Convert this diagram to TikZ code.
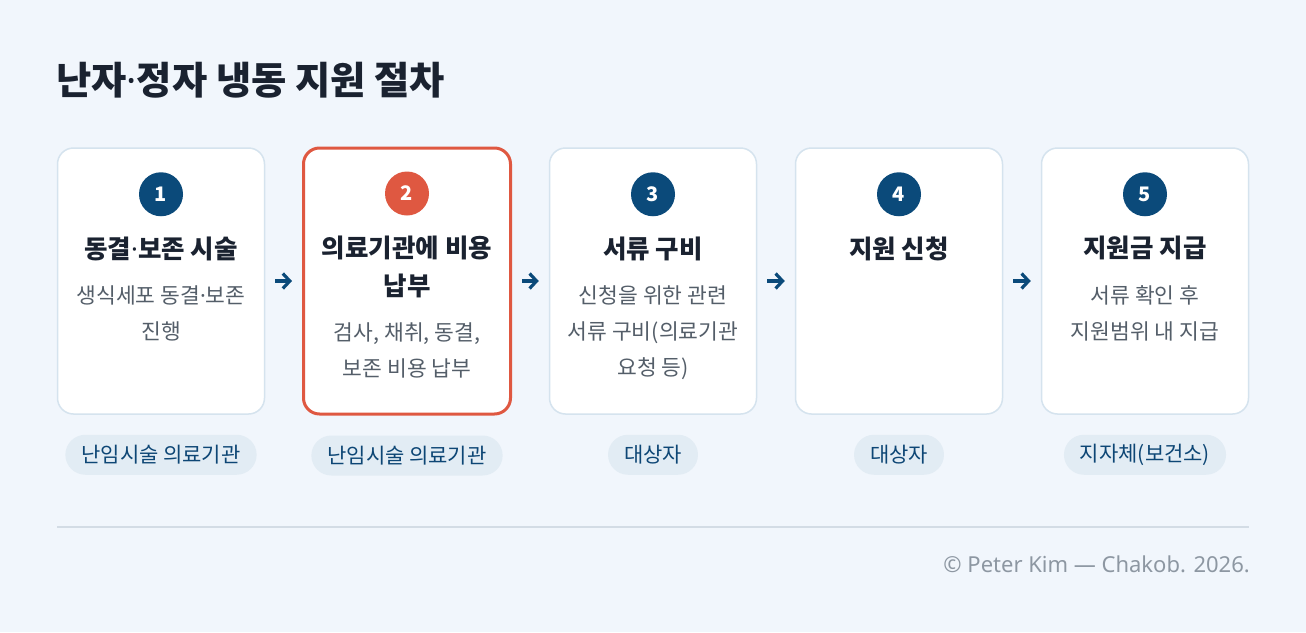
\documentclass[tikz,border=0pt]{standalone}
\usepackage{fontspec}
\setmainfont{Noto Sans CJK KR}
\newfontfamily\footfont{Noto Sans}
\usetikzlibrary{positioning,arrows.meta}

\definecolor{pagebg}{HTML}{F1F6FC}
\definecolor{cardline}{HTML}{D5E3EE}
\definecolor{navy}{HTML}{0B4A7A}
\definecolor{hilite}{HTML}{DF5841}
\definecolor{inktitle}{HTML}{1A2230}
\definecolor{inkdesc}{HTML}{545E69}
\definecolor{tagbg}{HTML}{E2ECF4}
\definecolor{tagink}{HTML}{0D4675}
\definecolor{ruleline}{HTML}{D3DCE5}
\definecolor{footink}{HTML}{8D97A2}

% narrow middle dot
\newcommand{\mdot}{{\footfont\textperiodcentered}}

\tikzset{
  card/.style={draw=cardline, line width=1.5pt, fill=white, rounded corners=16pt,
    minimum width=207pt, minimum height=266pt, inner sep=0pt},
  cardhot/.style={card, draw=hilite, line width=3pt},
  badge/.style={circle, fill=navy, minimum size=44pt, inner sep=0pt,
    text=white, font=\fontsize{20}{20}\selectfont\bfseries},
  badgehot/.style={badge, fill=hilite},
  steptitle/.style={anchor=north, align=center, inner sep=0pt, text=inktitle,
    font=\fontsize{25.5}{38}\selectfont\bfseries},
  stepdesc/.style={below=25pt of #1, align=center, inner sep=0pt, text=inkdesc,
    font=\fontsize{21.5}{36}\selectfont},
  role/.style={fill=tagbg, rounded corners=20pt, minimum height=40pt, inner xsep=16pt,
    inner ysep=0pt, text=tagink, font=\fontsize{21}{22}\selectfont},
  flow/.style={draw=navy, line width=3.2pt, -{Straight Barb[length=7pt,width=15pt]},
    shorten >=10pt, shorten <=10pt},
}

\begin{document}
\begin{tikzpicture}[x=1pt, y=-1pt]
  % page
  \fill[pagebg] (0,0) rectangle (1306,632);
  \useasboundingbox (0,0) rectangle (1306,632);
  \node[anchor=west, inner sep=0pt, text=inktitle, font=\fontsize{38.3}{40}\selectfont\bfseries]
    (heading) at (56,80) {난자\mdot 정자 냉동 지원 절차};

  % cards
  \node[card] (card1) at (161,281) {};
  \node[cardhot] (card2) at (407,281) {};
  \node[card] (card3) at (653,281) {};
  \node[card] (card4) at (899,281) {};
  \node[card] (card5) at (1145,281) {};

  % numbers
  \node[badge] (num1) at ([yshift=-47pt]card1.north) {1};
  \node[badgehot] (num2) at ([yshift=-47pt]card2.north) {2};
  \node[badge] (num3) at ([yshift=-47pt]card3.north) {3};
  \node[badge] (num4) at ([yshift=-47pt]card4.north) {4};
  \node[badge] (num5) at ([yshift=-47pt]card5.north) {5};

  % titles
  \node[steptitle] (title1) at ([yshift=-89pt]card1.north) {동결\mdot 보존 시술};
  \node[steptitle] (title2) at ([yshift=-89pt]card2.north) {의료기관에 비용\\납부};
  \node[steptitle] (title3) at ([yshift=-89pt]card3.north) {서류 구비};
  \node[steptitle] (title4) at ([yshift=-89pt]card4.north) {지원 신청};
  \node[steptitle] (title5) at ([yshift=-89pt]card5.north) {지원금 지급};

  % descriptions
  \node[stepdesc=title1] (desc1) {생식세포 동결\mdot 보존\\진행};
  \node[stepdesc=title2] (desc2) {검사, 채취, 동결,\\보존 비용 납부};
  \node[stepdesc=title3] (desc3) {신청을 위한 관련\\서류 구비(의료기관\\요청 등)};
  \node[stepdesc=title5] (desc5) {서류 확인 후\\지원범위 내 지급};

  % who does it
  \node[role] (role1) at ([yshift=-40pt]card1.south) {난임시술 의료기관};
  \node[role] (role2) at ([yshift=-40pt]card2.south) {난임시술 의료기관};
  \node[role] (role3) at ([yshift=-40pt]card3.south) {대상자};
  \node[role] (role4) at ([yshift=-40pt]card4.south) {대상자};
  \node[role] (role5) at ([yshift=-40pt]card5.south) {지자체(보건소)};

  % arrows
  \draw[flow] (card1) -- (card2);
  \draw[flow] (card2) -- (card3);
  \draw[flow] (card3) -- (card4);
  \draw[flow] (card4) -- (card5);

  % footer
  \coordinate (ruleL) at (57,527);
  \coordinate (ruleR) at (1249,527);
  \draw[ruleline, line width=1.5pt] (ruleL) -- (ruleR);
  \node[anchor=east, inner sep=0pt, text=footink, font=\footfont\fontsize{22}{24}\selectfont]
    (credit) at (1250,564) {© Peter Kim — Chakob. 2026.};
\end{tikzpicture}
\end{document}
